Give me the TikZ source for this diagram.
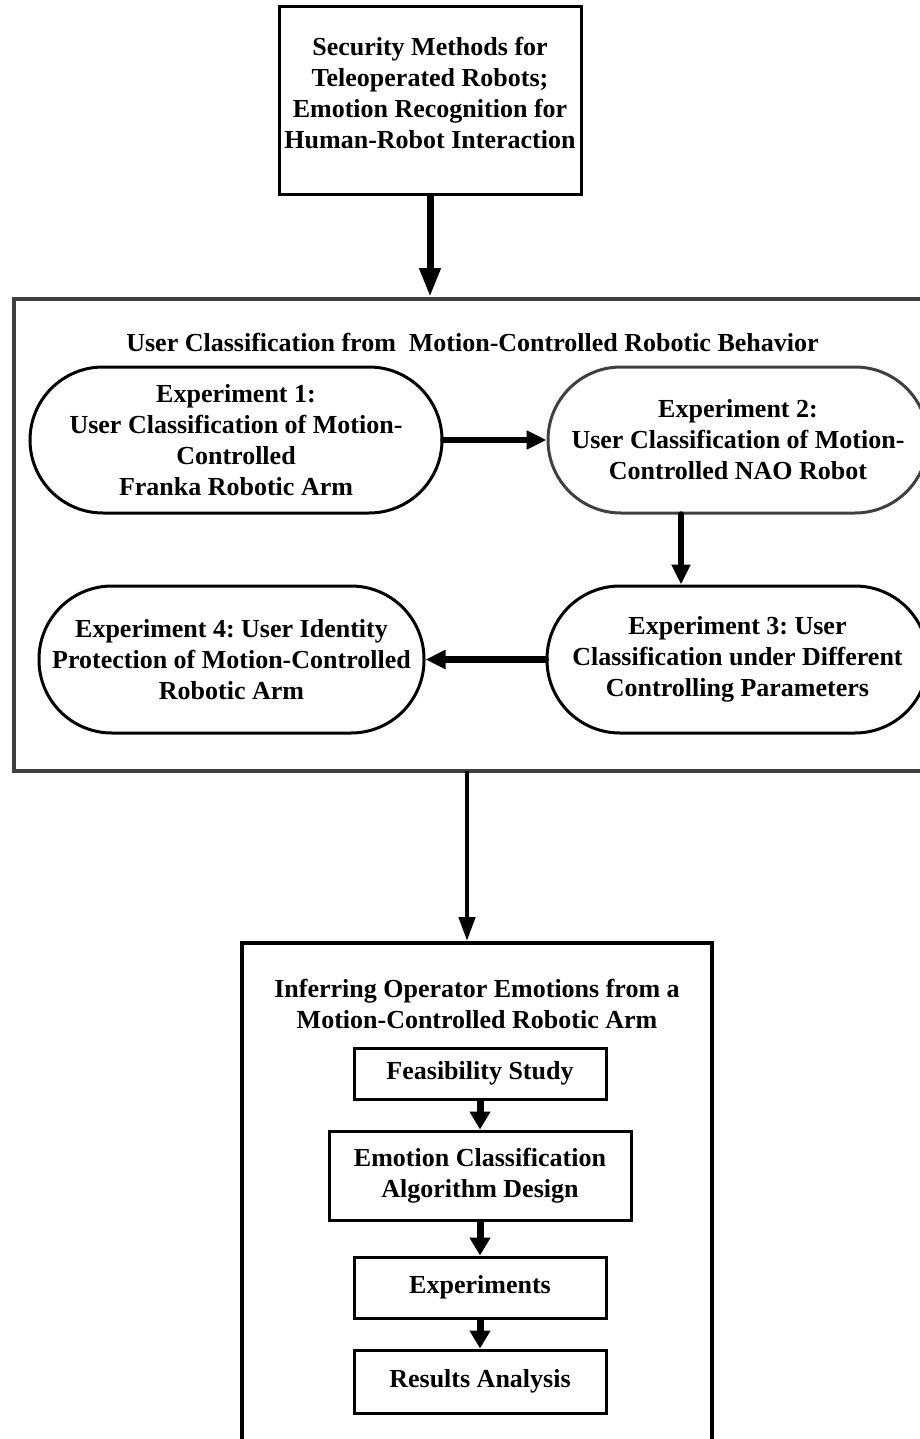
\documentclass[tikz,border=0pt]{standalone}
\usepackage{fontspec}
\setmainfont{Liberation Serif}
\usetikzlibrary{arrows.meta}
\definecolor{edgegray}{HTML}{404040}
\frenchspacing
\begin{document}
\begin{tikzpicture}[x=1pt,y=-1pt,
  txt/.style={font=\fontsize{26}{31}\selectfont\bfseries, align=center, inner sep=0pt},
  plainbox/.style={draw=black, line width=3pt, inner sep=0pt, txt},
  pill/.style={draw=black, line width=3pt, rounded corners=73pt, inner sep=0pt, txt},
  bigarrow/.style={line width=7pt, -{Triangle[width=20pt,length=29pt]}},
  midarrow/.style={line width=6.5pt, -{Triangle[width=18pt,length=20pt]}},
  thinarrow/.style={line width=4.5pt, -{Triangle[width=16pt,length=24pt]}},
  steparrow/.style={line width=7pt, -{Triangle[width=20pt,length=18pt]}}
]
\useasboundingbox (0,0) rectangle (920,1439);
\clip (0,0) rectangle (920,1439);

% top block
\node[plainbox, minimum width=302pt, minimum height=188pt] (sec) at (430,101) {};
\node[txt] (sectxt) at ([yshift=8pt]sec.center)
  {Security Methods for\\Teleoperated Robots;\\Emotion Recognition for\\Human-Robot Interaction};

% user classification block
\node[draw=edgegray, line width=4pt, minimum width=931pt, minimum height=472pt, inner sep=0pt] (uc) at (479.5,535) {};
\node[txt] (uctitle) at (472.5,342) {User Classification from\ \ Motion-Controlled Robotic Behavior};

\node[pill, minimum width=412pt, minimum height=146pt] (e1) at (236,440)
  {Experiment 1:\\User Classification of Motion-\\Controlled\\Franka Robotic Arm};
\node[pill, draw=edgegray, minimum width=380pt, minimum height=146pt] (e2) at (738,440)
  {Experiment 2:\\User Classification of Motion-\\Controlled NAO Robot};
\node[pill, minimum width=381pt, minimum height=147pt] (e3) at (737.5,659.5)
  {Experiment 3: User\\Classification under Different\\Controlling Parameters};
\node[pill, minimum width=385pt, minimum height=147pt] (e4) at (231.5,659.5)
  {Experiment 4: User Identity\\Protection of Motion-Controlled\\Robotic Arm};

% emotion inference block
\node[draw=black, line width=4pt, minimum width=470pt, minimum height=527pt, inner sep=0pt] (ie) at (477,1206.5) {};
\node[txt] (ietitle) at (477,1004) {Inferring Operator Emotions from a\\Motion-Controlled Robotic Arm};

\node[plainbox, minimum width=252pt, minimum height=51pt] (feas) at (480,1073.5) {Feasibility Study};
\node[plainbox, minimum width=302pt, minimum height=89pt] (algo) at (480,1175.5) {Emotion Classification\\Algorithm Design};
\node[plainbox, minimum width=252pt, minimum height=61pt] (expt) at (480,1287.5) {Experiments};
\node[plainbox, minimum width=252pt, minimum height=63pt] (res) at (480,1381.5) {Results Analysis};

% connectors
\draw[bigarrow] (sec.south) -- (sec.south |- uc.north);
\draw[midarrow, line cap=round] (e1.east) -- (e2.west);
\draw[midarrow, line cap=round] ([xshift=-57pt]e2.south) -- ([xshift=-57pt]e2.south |- e3.north);
\draw[midarrow, line cap=round] (e3.west) -- (e4.east);
\coordinate (ucout) at (467,771);
\draw[thinarrow] (ucout) -- (ucout |- ie.north);
\draw[steparrow] (feas) -- (algo);
\draw[steparrow] (algo) -- (expt);
\draw[steparrow] (expt) -- (res);
\end{tikzpicture}
\end{document}
